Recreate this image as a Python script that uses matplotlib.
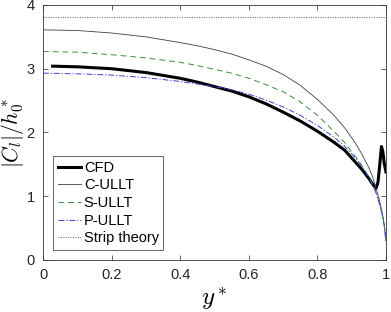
import numpy as np
import matplotlib.pyplot as plt

plt.rcParams['font.family'] = ['Liberation Sans', 'DejaVu Sans']
plt.rcParams['mathtext.fontset'] = 'cm'

# spanwise positions and values
y_ullt = [0.0, 0.1, 0.2, 0.3, 0.4, 0.45, 0.5, 0.55, 0.6, 0.65, 0.7, 0.75, 0.8, 0.85,
          0.88, 0.91, 0.93, 0.95, 0.96, 0.97, 0.98, 0.99, 0.995, 1.0]
c_ullt = [3.61, 3.60, 3.56, 3.50, 3.41, 3.36, 3.30, 3.23, 3.14, 3.04, 2.91, 2.74, 2.52, 2.26,
          2.07, 1.84, 1.66, 1.45, 1.32, 1.15, 0.96, 0.72, 0.56, 0.30]
s_ullt = [3.27, 3.26, 3.22, 3.17, 3.10, 3.05, 2.99, 2.93, 2.85, 2.75, 2.64, 2.48, 2.27, 2.01,
          1.84, 1.63, 1.48, 1.30, 1.20, 1.07, 0.91, 0.70, 0.55, 0.30]
p_ullt = [2.93, 2.92, 2.90, 2.86, 2.80, 2.76, 2.72, 2.67, 2.60, 2.51, 2.40, 2.27, 2.11, 1.92,
          1.78, 1.61, 1.47, 1.30, 1.20, 1.07, 0.90, 0.69, 0.54, 0.30]

y_cfd = [0.028, 0.1, 0.2, 0.3, 0.4, 0.45, 0.5, 0.55, 0.6, 0.65, 0.7, 0.75, 0.8, 0.85,
         0.88, 0.91, 0.93, 0.95, 0.96, 0.971, 0.977, 0.983, 0.987, 0.991, 0.995, 1.0]
cfd = [3.04, 3.03, 3.00, 2.94, 2.85, 2.79, 2.72, 2.65, 2.56, 2.45, 2.32, 2.18, 2.02, 1.84,
       1.72, 1.54, 1.42, 1.28, 1.20, 1.12, 1.22, 1.55, 1.78, 1.70, 1.52, 1.38]

strip = 3.81

fig = plt.figure(figsize=(3.91, 3.12), dpi=100)
ax = fig.add_axes([0.110, 0.167, 0.877, 0.817])

ax.plot(y_cfd, cfd, color='k', lw=2.2, label='CFD')
ax.plot(y_ullt, c_ullt, color='0.25', lw=0.6, label='C-ULLT')
ax.plot(y_ullt, s_ullt, color='#3c8f3c', lw=0.7, ls=(0, (6, 4)), label='S-ULLT')
ax.plot(y_ullt, p_ullt, color='#4040e0', lw=0.7, ls=(0, (6, 2, 1.2, 2)), label='P-ULLT')
ax.plot([0, 1], [strip, strip], color='0.35', lw=0.7, ls=(0, (1, 1.5)), label='Strip theory')

ax.set_xlim(0, 1)
ax.set_ylim(0, 4)
ax.set_xticks([0, 0.2, 0.4, 0.6, 0.8, 1])
ax.set_xticklabels(['0', '0.2', '0.4', '0.6', '0.8', '1'])
ax.set_yticks([0, 1, 2, 3, 4])
ax.tick_params(direction='in', top=True, right=True, length=3.5, width=0.5,
               labelsize=10.5, colors='0.15', pad=6)
for s in ax.spines.values():
    s.set_linewidth(0.6)
    s.set_color('0.2')

ax.set_xlabel(r'$y^*$', fontsize=18, labelpad=2)
ax.set_ylabel(r'$|C_l|/h_0^*$', fontsize=15.5)
ax.yaxis.set_label_coords(-0.05, 0.5)

leg = ax.legend(loc='lower left', fontsize=10.5, fancybox=False, framealpha=1,
                edgecolor='0.3', borderaxespad=0.7, labelspacing=0.25,
                handlelength=1.6, handletextpad=0.2, borderpad=0.3)
leg.get_frame().set_linewidth(0.6)

fig.savefig('out.png', dpi=100)
